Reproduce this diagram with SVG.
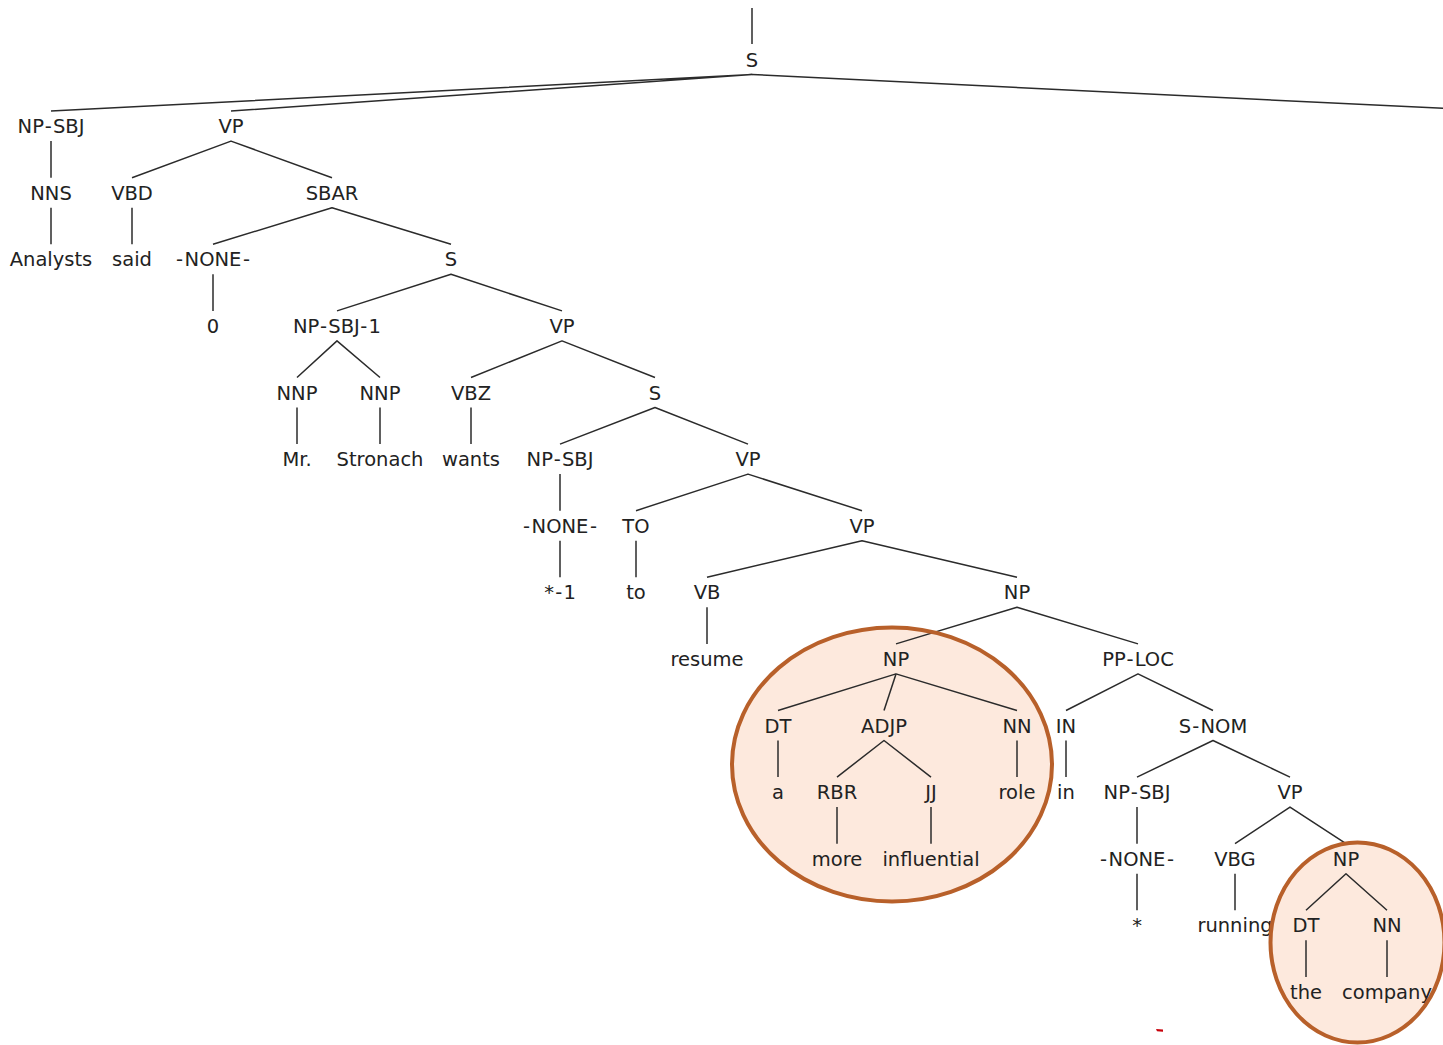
<svg xmlns="http://www.w3.org/2000/svg" width="1443" height="1045" viewBox="0 0 1443 1045">
  <style>
    .lbl { font-family: "DejaVu Sans", "Liberation Sans", sans-serif; font-size: 19.5px; fill: #222; text-anchor: middle; }
    .edge { fill: none; stroke: #2b2b2b; stroke-width: 1.5; stroke-linejoin: round; stroke-linecap: butt; }
    .hl-fill { fill: #fde9dd; stroke: none; }
    .hl-ring { fill: none; stroke: #b8602a; stroke-width: 4; }
  </style>
  <rect width="1443" height="1045" fill="#ffffff"/>

  <!-- highlight backgrounds (behind the tree) -->
  <g id="highlights-fill">
    <ellipse class="hl-fill" cx="892" cy="764.5" rx="160" ry="137"/>
    <ellipse class="hl-fill" cx="1357.5" cy="942.5" rx="87" ry="100"/>
  </g>

  <g id="connectors">
    <!-- root S -->
    <path class="edge" d="M752 8 V44"/>
    <path class="edge" d="M51 111.1 L752 74.5 L231 111.1"/>
    <path class="edge" d="M752 74.5 L1446 108.5"/>
    <!-- NP-SBJ / VP -->
    <path class="edge" d="M51 141.1 V177.7"/>
    <path class="edge" d="M132 177.7 L231 141.1 L332 177.7"/>
    <!-- NNS, VBD -->
    <path class="edge" d="M51 207.7 V244.3"/>
    <path class="edge" d="M132 207.7 V244.3"/>
    <!-- SBAR -->
    <path class="edge" d="M213 244.3 L332 207.7 L451 244.3"/>
    <!-- -NONE- > 0 -->
    <path class="edge" d="M213 274.3 V310.9"/>
    <!-- S -->
    <path class="edge" d="M337 310.9 L451 274.3 L562 310.9"/>
    <!-- NP-SBJ-1 -->
    <path class="edge" d="M297 377.5 L337 340.9 L380 377.5"/>
    <!-- VP -->
    <path class="edge" d="M471 377.5 L562 340.9 L655 377.5"/>
    <!-- NNP, NNP, VBZ -->
    <path class="edge" d="M297 407.5 V444.1"/>
    <path class="edge" d="M380 407.5 V444.1"/>
    <path class="edge" d="M471 407.5 V444.1"/>
    <!-- S -->
    <path class="edge" d="M560 444.1 L655 407.5 L748 444.1"/>
    <!-- NP-SBJ > -NONE- -->
    <path class="edge" d="M560 474.1 V510.7"/>
    <!-- VP -->
    <path class="edge" d="M636 510.7 L748 474.1 L862 510.7"/>
    <!-- -NONE- > *-1, TO > to -->
    <path class="edge" d="M560 540.7 V577.3"/>
    <path class="edge" d="M636 540.7 V577.3"/>
    <!-- VP -->
    <path class="edge" d="M707 577.3 L862 540.7 L1017 577.3"/>
    <!-- VB > resume -->
    <path class="edge" d="M707 607.3 V643.9"/>
    <!-- NP -->
    <path class="edge" d="M896 643.9 L1017 607.3 L1138 643.9"/>
    <!-- NP (a more influential role) -->
    <path class="edge" d="M778 710.5 L896 673.9 L1017 710.5"/>
    <path class="edge" d="M896 673.9 L884 710.5"/>
    <!-- PP-LOC -->
    <path class="edge" d="M1066 710.5 L1138 673.9 L1213 710.5"/>
    <!-- DT, NN, IN -->
    <path class="edge" d="M778 740.5 V777.1"/>
    <path class="edge" d="M1017 740.5 V777.1"/>
    <path class="edge" d="M1066 740.5 V777.1"/>
    <!-- ADJP -->
    <path class="edge" d="M837 777.1 L884 740.5 L931 777.1"/>
    <!-- S-NOM -->
    <path class="edge" d="M1137 777.1 L1213 740.5 L1290 777.1"/>
    <!-- RBR, JJ, NP-SBJ -->
    <path class="edge" d="M837 807.1 V843.7"/>
    <path class="edge" d="M931 807.1 V843.7"/>
    <path class="edge" d="M1137 807.1 V843.7"/>
    <!-- VP -->
    <path class="edge" d="M1235 843.7 L1290 807.1 L1346 843.7"/>
    <!-- -NONE- > *, VBG > running -->
    <path class="edge" d="M1137 873.7 V910.3"/>
    <path class="edge" d="M1235 873.7 V910.3"/>
    <!-- NP (the company) -->
    <path class="edge" d="M1306 910.3 L1346 873.7 L1387 910.3"/>
    <!-- DT > the, NN > company -->
    <path class="edge" d="M1306 940.3 V976.9"/>
    <path class="edge" d="M1387 940.3 V976.9"/>
  </g>

  <g id="nodes">
    <g id="n-s-root"><text class="lbl" x="752" y="66.5">S</text></g>

    <g id="n-np-sbj-a"><text class="lbl" x="51" y="133.1">NP<tspan dx="1.2">-</tspan><tspan dx="1.2">SBJ</tspan></text></g>
    <g id="n-vp-a"><text class="lbl" x="231" y="133.1">VP</text></g>

    <g id="n-nns"><text class="lbl" x="51" y="199.7">NNS</text></g>
    <g id="n-vbd"><text class="lbl" x="132" y="199.7">VBD</text></g>
    <g id="n-sbar"><text class="lbl" x="332" y="199.7">SBAR</text></g>

    <g id="w-analysts"><text class="lbl" x="51" y="266.3">Analysts</text></g>
    <g id="w-said"><text class="lbl" x="132" y="266.3">said</text></g>
    <g id="n-none-a"><text class="lbl" x="213" y="266.3">-<tspan dx="1.5">NONE</tspan><tspan dx="1.5">-</tspan></text></g>
    <g id="n-s-b"><text class="lbl" x="451" y="266.3">S</text></g>

    <g id="w-zero"><text class="lbl" x="213" y="332.9">0</text></g>
    <g id="n-np-sbj-1"><text class="lbl" x="337" y="332.9">NP<tspan dx="1.2">-</tspan><tspan dx="1.2">SBJ</tspan><tspan dx="1.2">-</tspan><tspan dx="1.2">1</tspan></text></g>
    <g id="n-vp-b"><text class="lbl" x="562" y="332.9">VP</text></g>

    <g id="n-nnp-a"><text class="lbl" x="297" y="399.5">NNP</text></g>
    <g id="n-nnp-b"><text class="lbl" x="380" y="399.5">NNP</text></g>
    <g id="n-vbz"><text class="lbl" x="471" y="399.5">VBZ</text></g>
    <g id="n-s-c"><text class="lbl" x="655" y="399.5">S</text></g>

    <g id="w-mr"><text class="lbl" x="297" y="466.1">Mr.</text></g>
    <g id="w-stronach"><text class="lbl" x="380" y="466.1">Stronach</text></g>
    <g id="w-wants"><text class="lbl" x="471" y="466.1">wants</text></g>
    <g id="n-np-sbj-b"><text class="lbl" x="560" y="466.1">NP<tspan dx="1.2">-</tspan><tspan dx="1.2">SBJ</tspan></text></g>
    <g id="n-vp-c"><text class="lbl" x="748" y="466.1">VP</text></g>

    <g id="n-none-b"><text class="lbl" x="560" y="532.7">-<tspan dx="1.5">NONE</tspan><tspan dx="1.5">-</tspan></text></g>
    <g id="n-to"><text class="lbl" x="636" y="532.7">TO</text></g>
    <g id="n-vp-d"><text class="lbl" x="862" y="532.7">VP</text></g>

    <g id="w-trace-1"><text class="lbl" x="560" y="599.3">*<tspan dx="1.2">-</tspan><tspan dx="1.2">1</tspan></text></g>
    <g id="w-to"><text class="lbl" x="636" y="599.3">to</text></g>
    <g id="n-vb"><text class="lbl" x="707" y="599.3">VB</text></g>
    <g id="n-np-a"><text class="lbl" x="1017" y="599.3">NP</text></g>

    <g id="w-resume"><text class="lbl" x="707" y="665.9">resume</text></g>
    <g id="n-np-b"><text class="lbl" x="896" y="665.9">NP</text></g>
    <g id="n-pp-loc"><text class="lbl" x="1138" y="665.9">PP<tspan dx="1.2">-</tspan><tspan dx="1.2">LOC</tspan></text></g>

    <g id="n-dt-a"><text class="lbl" x="778" y="732.5">DT</text></g>
    <g id="n-adjp"><text class="lbl" x="884" y="732.5">ADJP</text></g>
    <g id="n-nn-a"><text class="lbl" x="1017" y="732.5">NN</text></g>
    <g id="n-in"><text class="lbl" x="1066" y="732.5">IN</text></g>
    <g id="n-s-nom"><text class="lbl" x="1213" y="732.5">S<tspan dx="1.2">-</tspan><tspan dx="1.2">NOM</tspan></text></g>

    <g id="w-a"><text class="lbl" x="778" y="799.1">a</text></g>
    <g id="n-rbr"><text class="lbl" x="837" y="799.1">RBR</text></g>
    <g id="n-jj"><text class="lbl" x="931" y="799.1">JJ</text></g>
    <g id="w-role"><text class="lbl" x="1017" y="799.1">role</text></g>
    <g id="w-in"><text class="lbl" x="1066" y="799.1">in</text></g>
    <g id="n-np-sbj-c"><text class="lbl" x="1137" y="799.1">NP<tspan dx="1.2">-</tspan><tspan dx="1.2">SBJ</tspan></text></g>
    <g id="n-vp-e"><text class="lbl" x="1290" y="799.1">VP</text></g>

    <g id="w-more"><text class="lbl" x="837" y="865.7">more</text></g>
    <g id="w-influential"><text class="lbl" x="931" y="865.7">influential</text></g>
    <g id="n-none-c"><text class="lbl" x="1137" y="865.7">-<tspan dx="1.5">NONE</tspan><tspan dx="1.5">-</tspan></text></g>
    <g id="n-vbg"><text class="lbl" x="1235" y="865.7">VBG</text></g>
    <g id="n-np-c"><text class="lbl" x="1346" y="865.7">NP</text></g>

    <g id="w-trace"><text class="lbl" x="1137" y="932.3">*</text></g>
    <g id="w-running"><text class="lbl" x="1235" y="932.3">running</text></g>
    <g id="n-dt-b"><text class="lbl" x="1306" y="932.3">DT</text></g>
    <g id="n-nn-b"><text class="lbl" x="1387" y="932.3">NN</text></g>

    <g id="w-the"><text class="lbl" x="1306" y="998.9">the</text></g>
    <g id="w-company"><text class="lbl" x="1387" y="998.9">company</text></g>
  </g>

  <!-- highlight rings (drawn over the tree) -->
  <g id="highlights-ring">
    <ellipse class="hl-ring" cx="892" cy="764.5" rx="160" ry="137"/>
    <ellipse class="hl-ring" cx="1357.5" cy="942.5" rx="87" ry="100"/>
  </g>

  <!-- small red tick near the bottom -->
  <path d="M1156 1029 L1163 1029.6 L1163 1031.8 L1157 1031.2 Z" fill="#c8000a"/>
</svg>
